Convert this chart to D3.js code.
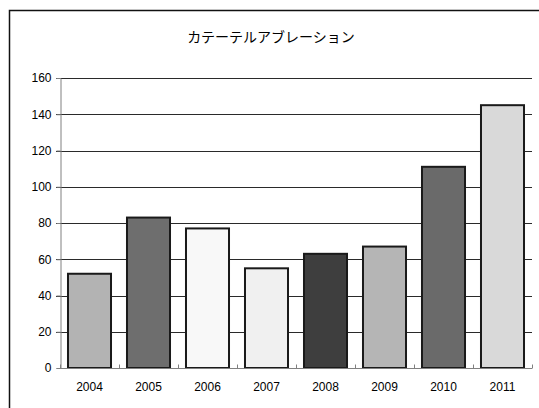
<!DOCTYPE html>
<html>
<head>
<meta charset="utf-8">
<script src="https://cdn.jsdelivr.net/npm/d3@7"></script>
<style>
  html, body { margin: 0; padding: 0; background: #fff; }
  svg { display: block; }
  text { font-family: "Liberation Sans", Arial, sans-serif; fill: #000; }
  .title { font-family: "Noto Sans CJK JP", sans-serif; }
</style>
</head>
<body>
<script>
// Annual case counts
const years = ["2004", "2005", "2006", "2007", "2008", "2009", "2010", "2011"];
const cases = [52, 83, 77, 55, 63, 67, 111, 145];
const barFills = ["#b3b3b3", "#6e6e6e", "#f8f8f8", "#f0f0f0", "#3e3e3e", "#b5b5b5", "#6a6a6a", "#d9d9d9"];
const yTicks = [0, 20, 40, 60, 80, 100, 120, 140, 160];
const titleText = "カテーテルアブレーション";

const W = 539, H = 408;
const plot = { left: 60, right: 532, top: 78, bottom: 368 };

const svg = d3.select("body").append("svg")
  .attr("width", W).attr("height", H);

// Outer chart frame (runs past the right and bottom edges)
svg.append("rect")
  .attr("x", 9.5).attr("y", 10.5)
  .attr("width", 560).attr("height", 420)
  .attr("fill", "#fff").attr("stroke", "#111").attr("stroke-width", 1.5);

svg.append("text")
  .attr("class", "title")
  .attr("x", 271).attr("y", 42)
  .attr("text-anchor", "middle")
  .attr("font-size", 14)
  .text(titleText);

const x = d3.scaleBand()
  .domain(years)
  .range([plot.left, plot.right])
  .paddingInner(0.237)
  .paddingOuter(0.1185);

const y = d3.scaleLinear()
  .domain([0, 160])
  .range([plot.bottom, plot.top]);

// Horizontal gridlines
svg.append("g")
  .selectAll("line")
  .data(yTicks.filter(d => d > 0))
  .join("line")
  .attr("x1", plot.left - 4).attr("x2", plot.right)
  .attr("y1", d => Math.round(y(d)) + 0.5)
  .attr("y2", d => Math.round(y(d)) + 0.5)
  .attr("stroke", "#2a2a2a").attr("stroke-width", 1.2);

// Y axis
const yAxis = svg.append("g")
  .attr("transform", `translate(${plot.left + 0.5},0)`)
  .call(d3.axisLeft(y).tickValues(yTicks).tickSize(4).tickPadding(5));
yAxis.select(".domain").attr("stroke", "#808080");
yAxis.selectAll(".tick line").attr("stroke", "#808080");
yAxis.selectAll(".tick text").attr("font-size", 12).attr("fill", "#000");

// Bars
svg.append("g")
  .selectAll("rect")
  .data(years)
  .join("rect")
  .attr("x", d => x(d) + 1)
  .attr("width", x.bandwidth() - 2)
  .attr("y", (d, i) => y(cases[i]))
  .attr("height", (d, i) => y(0) - y(cases[i]))
  .attr("fill", (d, i) => barFills[i])
  .attr("stroke", "#1a1a1a").attr("stroke-width", 2);

// X axis baseline with small category-boundary ticks
const xAxisG = svg.append("g")
  .attr("transform", `translate(0,${plot.bottom + 0.5})`);
xAxisG.append("line")
  .attr("x1", plot.left).attr("x2", plot.right)
  .attr("stroke", "#808080");
xAxisG.selectAll("line.bound")
  .data(d3.range(years.length + 1))
  .join("line")
  .attr("class", "bound")
  .attr("x1", i => plot.left + 0.5 + i * x.step())
  .attr("x2", i => plot.left + 0.5 + i * x.step())
  .attr("y1", 0).attr("y2", -4)
  .attr("stroke", "#808080");
xAxisG.selectAll("text")
  .data(years)
  .join("text")
  .attr("x", d => x(d) + x.bandwidth() / 2)
  .attr("y", 22)
  .attr("text-anchor", "middle")
  .attr("font-size", 12)
  .text(d => d);
</script>
</body>
</html>
